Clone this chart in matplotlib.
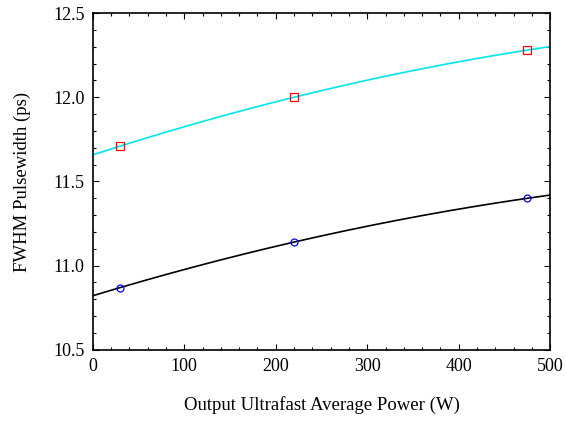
import numpy as np
import matplotlib
matplotlib.use("Agg")
import matplotlib.pyplot as plt
from matplotlib.ticker import MultipleLocator

# =====================================
# DATA
# =====================================

power = [30, 220, 475]
fwhm_upper = [11.71, 12.00, 12.28]
fwhm_lower = [10.87, 11.14, 11.40]

# quadratic fits through the measured points
x_fit = np.linspace(0, 500, 200)
fit_upper = np.polyval(np.polyfit(power, fwhm_upper, 2), x_fit)
fit_lower = np.polyval(np.polyfit(power, fwhm_lower, 2), x_fit)

# =====================================
# Plot
# =====================================

plt.rcParams["font.family"] = ["Liberation Serif", "DejaVu Serif"]

fig = plt.figure(figsize=(5.66, 4.21), dpi=100)
ax = fig.add_axes([0.164, 0.169, 0.808, 0.80])

ax.plot(x_fit, fit_upper, color="#00e5ee", linewidth=1.2)
ax.plot(x_fit, fit_lower, color="black", linewidth=1.2)

ax.plot(power, fwhm_upper, linestyle="none", marker="s", markersize=6,
        markerfacecolor="none", markeredgecolor="red", markeredgewidth=0.9)
ax.plot(power, fwhm_lower, linestyle="none", marker="o", markersize=5,
        markerfacecolor="none", markeredgecolor="blue", markeredgewidth=0.9)

ax.set_xlim(0, 500)
ax.set_ylim(10.5, 12.5)
ax.xaxis.set_major_locator(MultipleLocator(100))
ax.xaxis.set_minor_locator(MultipleLocator(20))
ax.yaxis.set_major_locator(MultipleLocator(0.5))
ax.yaxis.set_minor_locator(MultipleLocator(0.1))
ax.yaxis.set_major_formatter(matplotlib.ticker.FormatStrFormatter("%.1f"))

ax.tick_params(which="both", direction="in", top=True, right=True,
               labelsize=13, width=0.8)
ax.tick_params(which="major", length=4, pad=6)
ax.tick_params(which="minor", length=2)
for s in ax.spines.values():
    s.set_linewidth(1.2)

ax.set_xlabel("Output Ultrafast Average Power (W)", fontsize=13.5, labelpad=15)
ax.set_ylabel("FWHM Pulsewidth (ps)", fontsize=13.5, labelpad=16)

fig.savefig("out.png", dpi=100)
